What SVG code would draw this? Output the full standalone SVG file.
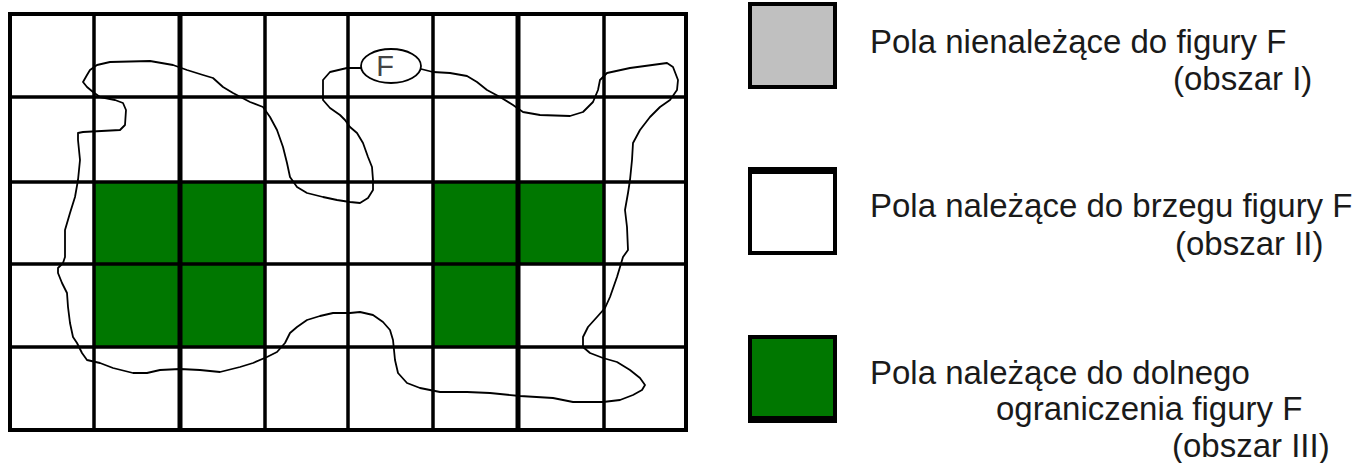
<svg xmlns="http://www.w3.org/2000/svg" width="1358" height="463" viewBox="0 0 1358 463">
<style>
.g{fill:#007700}
.ln{stroke:#000;stroke-width:3.5;fill:none}
.lt{stroke:#000;stroke-width:5;fill:none}
.t{font-family:"Liberation Sans",Arial,sans-serif;font-size:33px;fill:#1a1a1a}
.box{stroke:#000;stroke-width:4}
</style>
<rect width="1358" height="463" fill="#fff"/>
<g id="green-cells">
<rect class="g" x="94" y="182" width="86" height="82"/>
<rect class="g" x="180" y="182" width="85" height="82"/>
<rect class="g" x="94" y="264" width="86" height="83"/>
<rect class="g" x="180" y="264" width="85" height="83"/>
<rect class="g" x="433" y="182" width="85" height="82"/>
<rect class="g" x="518" y="182" width="86" height="82"/>
<rect class="g" x="433" y="264" width="85" height="83"/>
</g>
<g id="figure-outline">
<polyline fill="none" stroke="#000" stroke-width="1.8" stroke-linejoin="round" stroke-linecap="round" points="421,69 433,72 450,73 467,76 477,82 487,90 500,97 513,105 523,112 540,115 570,116 583,112 593,102 598,90 600,80 607,73 630,68 667,63 673,67 678,80 677,90 670,100 660,107 650,117 640,130 633,143 632,160 630,180 628,193 625,210 627,227 628,250 623,257 617,277 610,297 605,308 597,317 588,327 583,337 583,347 590,353 603,358 617,362 630,370 640,378 645,385 642,390 633,395 620,400 603,402 573,402 553,398 520,396 490,393 467,392 440,392 420,388 407,383 398,373 395,360 393,340 390,330 383,322 373,315 360,312 350,313 333,313 320,316 307,320 297,327 290,333 285,343 277,352 267,357 253,363 240,367 220,372 200,370 180,369 160,370 147,373 133,373 113,368 100,363 87,360 82,353 77,343 73,337 70,323 68,307 67,293 62,283 58,273 58,268 63,263 65,257 65,230 70,213 75,197 78,180 80,160 78,140 78,133 83,132 120,130 125,125 126,110 123,103 115,100 100,97 93,92 87,87 83,82 87,75 90,70 97,65 110,62 150,61 173,65 187,70 203,75 213,78 223,87 233,93 250,102 263,107 270,117 277,130 283,147 287,163 290,177 297,187 307,193 323,197 337,200 350,202 360,203 368,198 373,190 373,180 372,167 368,157 363,143 357,133 350,127 345,120 340,115 330,108 323,100 323,80 330,72 347,68 361,68"/>
</g>
<g id="grid">
<rect x="10" y="14" width="676" height="416" fill="none" stroke="#000" stroke-width="4"/>
<line class="ln" x1="94" y1="14" x2="94" y2="430"/>
<line class="lt" x1="180" y1="14" x2="180" y2="430"/>
<line class="ln" x1="265" y1="14" x2="265" y2="430"/>
<line class="ln" x1="348" y1="14" x2="348" y2="430"/>
<line class="ln" x1="433" y1="14" x2="433" y2="430"/>
<line class="lt" x1="518" y1="14" x2="518" y2="430"/>
<line class="ln" x1="604" y1="14" x2="604" y2="430"/>
<line class="ln" x1="10" y1="97" x2="686" y2="97" stroke-width="4.5"/>
<line class="ln" x1="10" y1="182" x2="686" y2="182"/>
<line class="ln" x1="10" y1="264" x2="686" y2="264"/>
<line class="ln" x1="10" y1="347" x2="686" y2="347"/>
</g>
<g id="label-F">
<ellipse cx="391" cy="66" rx="30" ry="17" fill="#fff" stroke="#000" stroke-width="1.8"/>
<text x="385" y="76" text-anchor="middle" style="font-family:'Liberation Sans',Arial,sans-serif;font-size:29px;fill:#444">F</text>
</g>
<g id="legend-1">
<rect class="box" x="750" y="4" width="85" height="83" fill="#c0c0c0"/>
<text class="t" x="870" y="53">Pola nienależące do figury F</text>
<text class="t" x="1173" y="90">(obszar I)</text>
</g>
<g id="legend-2">
<rect class="box" x="750" y="169" width="85" height="84" fill="#fff"/>
<line x1="748" y1="170.5" x2="837" y2="170.5" stroke="#000" stroke-width="7"/>
<text class="t" x="870" y="217">Pola należące do brzegu figury F</text>
<text class="t" x="1175" y="255">(obszar II)</text>
</g>
<g id="legend-3">
<rect class="box" x="750" y="337" width="85" height="84" fill="#007700"/>
<line x1="748" y1="419.5" x2="837" y2="419.5" stroke="#000" stroke-width="7"/>
<text class="t" x="870" y="384">Pola należące do dolnego</text>
<text class="t" x="996" y="420">ograniczenia figury F</text>
<text class="t" x="1172" y="457">(obszar III)</text>
</g>
</svg>
